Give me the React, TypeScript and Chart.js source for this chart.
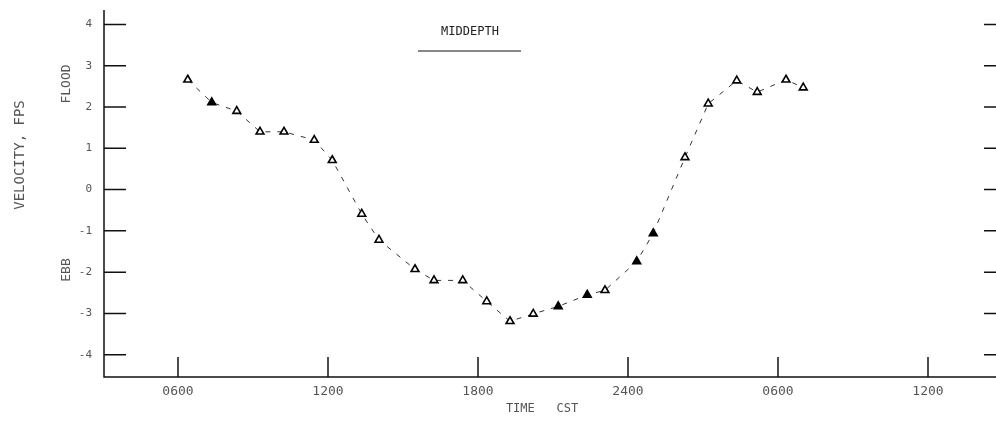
import React, { useEffect, useRef } from "react";
import { Chart, registerables } from "chart.js";

Chart.register(...registerables);

// Time in hours from start of day 1 (0600 = 6, 2400 = 24, next 0600 = 30)
const hours = [
  6.39, 7.35, 8.35, 9.28, 10.24, 11.45, 12.17, 13.35, 14.04, 15.48, 16.24, 17.39, 18.35,
  19.28, 20.21, 21.21, 22.37, 23.08, 24.35, 25.01, 26.28, 27.21, 28.35, 29.17, 30.32, 31.01,
];
// Velocity, fps (flood positive, ebb negative)
const velocity = [
  2.66, 2.11, 1.9, 1.4, 1.4, 1.2, 0.71, -0.59, -1.22, -1.93, -2.2, -2.2, -2.71,
  -3.19, -3.01, -2.83, -2.55, -2.44, -1.74, -1.06, 0.78, 2.08, 2.64, 2.36, 2.66, 2.47,
];
// Solid (filled) triangle markers
const filled = [
  false, true, false, false, false, false, false, false, false, false, false, false, false,
  false, false, true, true, false, true, true, false, false, false, false, false, false,
];

const yTicks = [4, 3, 2, 1, 0, -1, -2, -3, -4];
const xTickHours = [6, 12, 18, 24, 30, 36];
const xTickLabels = ["0600", "1200", "1800", "2400", "0600", "1200"];

const TITLE = "MIDDEPTH";
const X_TITLE = "TIME   CST";
const Y_TITLE = "VELOCITY, FPS";
const FLOOD = "FLOOD";
const EBB = "EBB";

const FONT = '"DejaVu Sans Mono", monospace';
const TEXT = "#555";

const axesPlugin = {
  id: "oldAxes",
  afterDraw(chart: any) {
    const ctx = chart.ctx as CanvasRenderingContext2D;
    const area = chart.chartArea;
    const xs = chart.scales.x;
    const ys = chart.scales.y;
    ctx.save();
    ctx.strokeStyle = "#111";
    ctx.lineWidth = 1.5;
    // axis lines
    ctx.beginPath();
    ctx.moveTo(area.left, area.top);
    ctx.lineTo(area.left, area.bottom);
    ctx.lineTo(area.right, area.bottom);
    ctx.stroke();
    // y ticks (left, inward) and right ticks
    ctx.font = `11px ${FONT}`;
    ctx.fillStyle = TEXT;
    ctx.textAlign = "right";
    ctx.textBaseline = "middle";
    yTicks.forEach((v) => {
      const py = ys.getPixelForValue(v);
      ctx.beginPath();
      ctx.moveTo(area.left, py);
      ctx.lineTo(area.left + 22, py);
      ctx.moveTo(area.right - 12, py);
      ctx.lineTo(area.right, py);
      ctx.stroke();
      ctx.fillText(String(v), area.left - 12, py);
    });
    // x ticks (upward, inward)
    ctx.font = `13px ${FONT}`;
    ctx.textAlign = "center";
    ctx.textBaseline = "middle";
    xTickHours.forEach((h, i) => {
      const px = xs.getPixelForValue(h);
      ctx.beginPath();
      ctx.moveTo(px, area.bottom);
      ctx.lineTo(px, area.bottom - 20);
      ctx.stroke();
      ctx.fillText(xTickLabels[i], px, area.bottom + 15);
    });
    // x title
    ctx.font = `12px ${FONT}`;
    ctx.fillText(X_TITLE, 542, area.bottom + 32);
    // chart title
    ctx.font = `12px ${FONT}`;
    ctx.fillStyle = "#222";
    ctx.fillText(TITLE, 470, 32);
    ctx.lineWidth = 1.2;
    ctx.beginPath();
    ctx.moveTo(418, 51);
    ctx.lineTo(521, 51);
    ctx.stroke();
    // rotated y labels
    const vtext = (t: string, x: number, y: number, size: number) => {
      ctx.save();
      ctx.translate(x, y);
      ctx.rotate(-Math.PI / 2);
      ctx.font = `${size}px ${FONT}`;
      ctx.fillStyle = TEXT;
      ctx.textAlign = "center";
      ctx.textBaseline = "middle";
      ctx.fillText(t, 0, 0);
      ctx.restore();
    };
    vtext(Y_TITLE, 20, 155, 14);
    vtext(FLOOD, 67, 84, 13);
    vtext(EBB, 67, 270, 13);
    ctx.restore();
  },
};

export default function App() {
  const ref = useRef<HTMLCanvasElement | null>(null);
  useEffect(() => {
    if (!ref.current) return;
    const data = hours.map((h, i) => ({ x: h, y: velocity[i] }));
    const chart = new Chart(ref.current, {
      type: "line",
      data: {
        datasets: [
          {
            data,
            borderColor: "#333",
            borderWidth: 1,
            borderDash: [5, 7],
            pointStyle: "triangle",
            pointRadius: 4.5,
            pointBorderWidth: 1.6,
            pointBorderColor: "#000",
            pointBackgroundColor: filled.map((f) => (f ? "#000" : "#fff")),
            tension: 0,
          },
        ],
      },
      options: {
        responsive: false,
        animation: false,
        layout: { autoPadding: false, padding: { left: 104, top: 10, right: 0, bottom: 49 } },
        plugins: { legend: { display: false }, tooltip: { enabled: false } },
        scales: {
          x: { type: "linear", display: false, min: 3.04, max: 38.72 },
          y: { type: "linear", display: false, min: -4.54, max: 4.35 },
        },
      },
      plugins: [axesPlugin],
    });
    return () => chart.destroy();
  }, []);
  return (
    <div style={{ position: "absolute", left: 0, top: 0, width: 996, height: 426, background: "#fff" }}>
      <canvas ref={ref} width={996} height={426} />
    </div>
  );
}
